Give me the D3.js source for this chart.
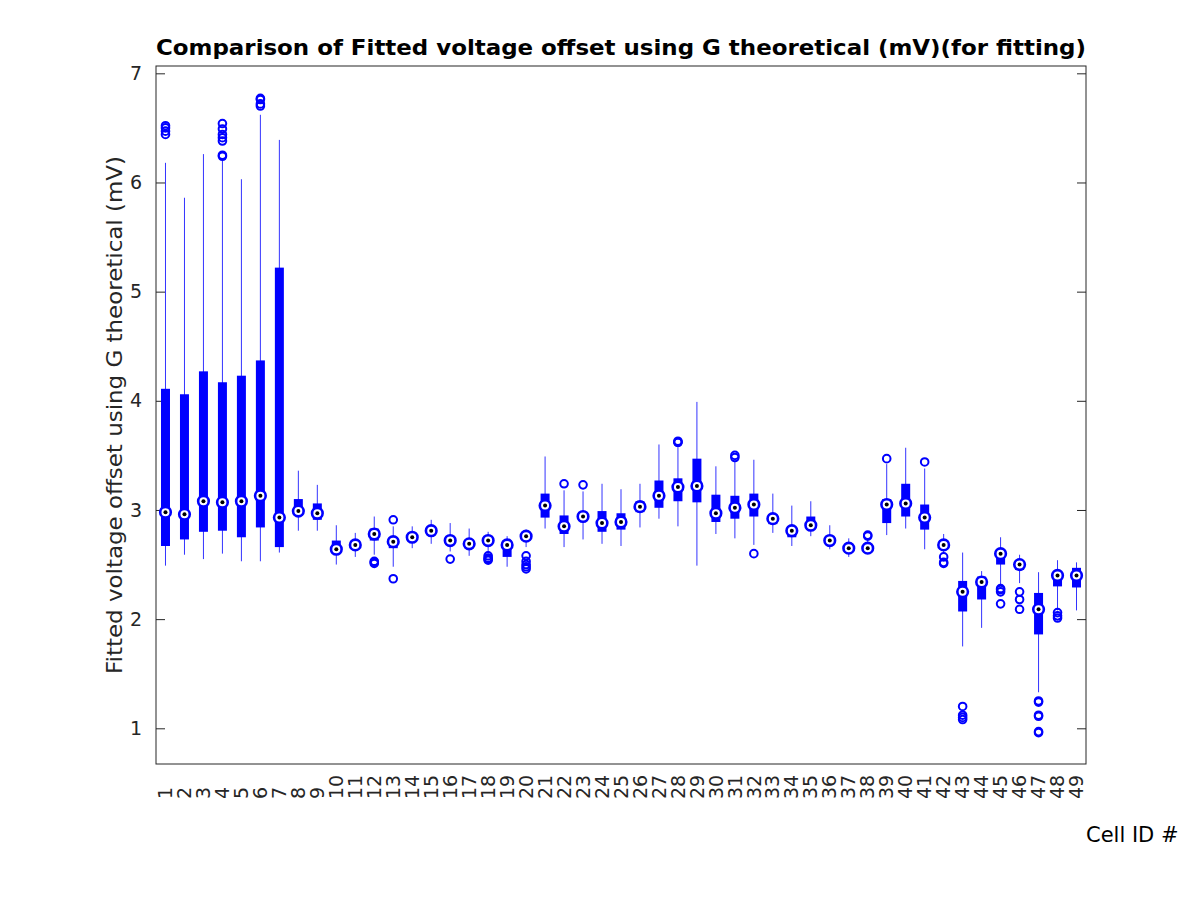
<!DOCTYPE html>
<html>
<head>
<meta charset="utf-8">
<script src="https://cdn.jsdelivr.net/npm/d3@7"></script>
<style>
  body { margin: 0; background: #fff; }
  text { font-family: "DejaVu Sans", sans-serif; fill: #262626; }
</style>
</head>
<body>
<div id="main"></div>
<script>
// box stats per cell
var cells = d3.range(1, 50);
var whiskerLow = [2.49, 2.59, 2.55, 2.60, 2.53, 2.53, 2.61, 2.81, 2.81, 2.50,
  2.57, 2.59, 2.48, 2.65, 2.69, 2.62, 2.58, 2.60, 2.48, 2.66,
  2.83, 2.66, 2.73, 2.69, 2.67, 2.84, 2.92, 2.85, 2.49, 2.78,
  2.74, 2.68, 2.79, 2.67, 2.76, 2.64, 2.57, 2.60, 2.77, 2.83,
  2.64, 2.60, 1.75, 1.92, 2.31, 2.33, 1.33, 2.08, 2.08];
var q1 = [2.67, 2.73, 2.80, 2.81, 2.75, 2.84, 2.66, 2.95, 2.91, 2.60,
  2.64, 2.72, 2.65, 2.71, 2.78, 2.68, 2.65, 2.68, 2.57, 2.72,
  2.93, 2.78, 2.90, 2.80, 2.82, 2.98, 3.02, 3.08, 3.07, 2.89,
  2.92, 2.94, 2.87, 2.75, 2.82, 2.69, 2.62, 2.62, 2.88, 2.94,
  2.82, 2.64, 2.07, 2.18, 2.50, 2.45, 1.86, 2.30, 2.29];
var medians = [2.98, 2.96, 3.08, 3.07, 3.08, 3.13, 2.93, 2.99, 2.97, 2.64,
  2.68, 2.78, 2.71, 2.75, 2.81, 2.72, 2.69, 2.72, 2.68, 2.76,
  3.04, 2.85, 2.94, 2.88, 2.89, 3.03, 3.13, 3.21, 3.22, 2.97,
  3.02, 3.05, 2.92, 2.81, 2.86, 2.72, 2.65, 2.65, 3.05, 3.06,
  2.93, 2.68, 2.25, 2.34, 2.60, 2.50, 2.09, 2.40, 2.40];
var q3 = [4.11, 4.06, 4.27, 4.17, 4.23, 4.37, 5.22, 3.10, 3.06, 2.72,
  2.72, 2.83, 2.75, 2.78, 2.84, 2.76, 2.72, 2.75, 2.72, 2.79,
  3.15, 2.95, 2.98, 2.99, 2.97, 3.08, 3.27, 3.29, 3.47, 3.14,
  3.13, 3.15, 2.96, 2.84, 2.94, 2.76, 2.68, 2.68, 3.10, 3.24,
  3.05, 2.72, 2.35, 2.39, 2.63, 2.53, 2.24, 2.44, 2.47];
var whiskerHigh = [6.18, 5.86, 6.26, 6.22, 6.03, 6.62, 6.39, 3.36, 3.23, 2.86,
  2.79, 2.94, 2.85, 2.85, 2.91, 2.88, 2.83, 2.80, 2.76, 2.82,
  3.49, 3.18, 3.17, 3.24, 3.19, 3.24, 3.60, 3.60, 3.99, 3.40,
  3.45, 3.46, 3.15, 3.04, 3.08, 2.86, 2.74, 2.72, 3.42, 3.57,
  3.38, 2.78, 2.61, 2.44, 2.75, 2.59, 2.43, 2.54, 2.52];
var outliers = [
  [6.44, 6.47, 6.50, 6.52], [], [], [6.24, 6.25, 6.38, 6.41, 6.44, 6.49, 6.54], [],
  [6.70, 6.72, 6.76, 6.77], [], [], [], [],
  [], [2.51, 2.52, 2.53], [2.37, 2.91], [], [],
  [2.55], [], [2.54, 2.55, 2.56, 2.58], [], [2.46, 2.48, 2.50, 2.53, 2.58],
  [], [3.24], [3.23], [], [],
  [], [], [3.62, 3.62, 3.63], [], [],
  [3.48, 3.50], [2.60], [], [], [],
  [], [], [2.76, 2.77], [3.47], [],
  [3.44], [2.51, 2.52, 2.57], [1.08, 1.10, 1.12, 1.20], [], [2.14, 2.25, 2.27, 2.28],
  [2.09, 2.18, 2.25], [0.96, 0.97, 1.11, 1.12, 1.24, 1.25], [2.01, 2.03, 2.06], []
];
var yTicks = [1, 2, 3, 4, 5, 6, 7];

var chartTitle = "Comparison of Fitted voltage offset using G theoretical (mV)(for fitting)";
var yLabel = "Fitted voltage offset using G theoretical (mV)";
var xLabel = "Cell ID #";

var W = 1200, H = 900;
var margin = { top: 66, right: 114, bottom: 136, left: 156 },
  width = W - margin.left - margin.right,
  height = H - margin.top - margin.bottom;

var blue = "#0000ff";

var svg = d3.select("#main").append("svg")
  .attr("width", W)
  .attr("height", H);

var g = svg.append("g")
  .attr("transform", "translate(" + margin.left + "," + margin.top + ")");

var x = d3.scaleLinear().domain([0.5, 49.5]).range([0, width]);
var y = d3.scaleLinear().domain([0.673, 7.067]).range([height, 0]);

// box outline of the axes
g.append("rect")
  .attr("width", width)
  .attr("height", height)
  .attr("fill", "none")
  .attr("stroke", "#262626")
  .attr("stroke-width", 1);

var yAxis = d3.axisLeft(y).tickValues(yTicks).tickSize(-9).tickPadding(14)
  .tickFormat(d3.format("d"));
var yAxisR = d3.axisRight(y).tickValues(yTicks).tickSize(-9).tickFormat("");

g.append("g").attr("class", "axis").call(yAxis);
g.append("g").attr("class", "axis")
  .attr("transform", "translate(" + width + ",0)")
  .call(yAxisR);

g.selectAll(".axis .domain").remove();
g.selectAll(".axis .tick line").attr("stroke", "#262626");
g.selectAll(".axis .tick text")
  .attr("font-size", 19)
  .style("font-family", "'DejaVu Sans', sans-serif")
  .style("fill", "#262626");

// rotated category labels
g.selectAll(".xlab")
  .data(cells)
  .enter().append("text")
  .attr("class", "xlab")
  .attr("transform", function (d) { return "translate(" + x(d) + "," + (height + 35) + ") rotate(-90)"; })
  .attr("text-anchor", "start")
  .attr("dy", "0.35em")
  .style("font-size", "19px")
  .text(function (d) { return d; });

// whiskers
var boxes = g.selectAll(".cell")
  .data(cells)
  .enter().append("g")
  .attr("class", "cell");

boxes.append("line")
  .attr("x1", function (d) { return x(d); })
  .attr("x2", function (d) { return x(d); })
  .attr("y1", function (d, i) { return y(whiskerLow[i]); })
  .attr("y2", function (d, i) { return y(whiskerHigh[i]); })
  .attr("stroke", blue)
  .attr("stroke-opacity", 0.8)
  .attr("stroke-width", 1);

// thick box between the quartiles
boxes.append("rect")
  .attr("x", function (d) { return x(d) - 4.5; })
  .attr("width", 9)
  .attr("y", function (d, i) { return y(q3[i]); })
  .attr("height", function (d, i) { return y(q1[i]) - y(q3[i]); })
  .attr("fill", blue);

// outliers
boxes.each(function (d, i) {
  d3.select(this).selectAll(".out")
    .data(outliers[i])
    .enter().append("circle")
    .attr("class", "out")
    .attr("cx", x(d))
    .attr("cy", function (v) { return y(v); })
    .attr("r", 3.8)
    .attr("fill", "none")
    .attr("stroke", blue)
    .attr("stroke-width", 2);
});

// median marker: white disc with blue ring and black dot
boxes.append("circle")
  .attr("cx", function (d) { return x(d); })
  .attr("cy", function (d, i) { return y(medians[i]); })
  .attr("r", 5.3)
  .attr("fill", "#fff")
  .attr("stroke", blue)
  .attr("stroke-width", 2.6);

boxes.append("circle")
  .attr("cx", function (d) { return x(d); })
  .attr("cy", function (d, i) { return y(medians[i]); })
  .attr("r", 2)
  .attr("fill", "#000");

// titles
svg.append("text")
  .attr("x", margin.left + width / 2)
  .attr("y", 55)
  .attr("text-anchor", "middle")
  .attr("textLength", 930)
  .attr("lengthAdjust", "spacingAndGlyphs")
  .style("font-size", "21px")
  .style("font-weight", "bold")
  .style("fill", "#000")
  .text(chartTitle);

svg.append("text")
  .attr("transform", "translate(122," + (margin.top + height / 2) + ") rotate(-90)")
  .attr("text-anchor", "middle")
  .attr("textLength", 518)
  .attr("lengthAdjust", "spacingAndGlyphs")
  .style("font-size", "22px")
  .text(yLabel);

svg.append("text")
  .attr("x", 1086)
  .attr("y", 842)
  .style("font-size", "21px")
  .style("fill", "#000")
  .text(xLabel);
</script>
</body>
</html>
